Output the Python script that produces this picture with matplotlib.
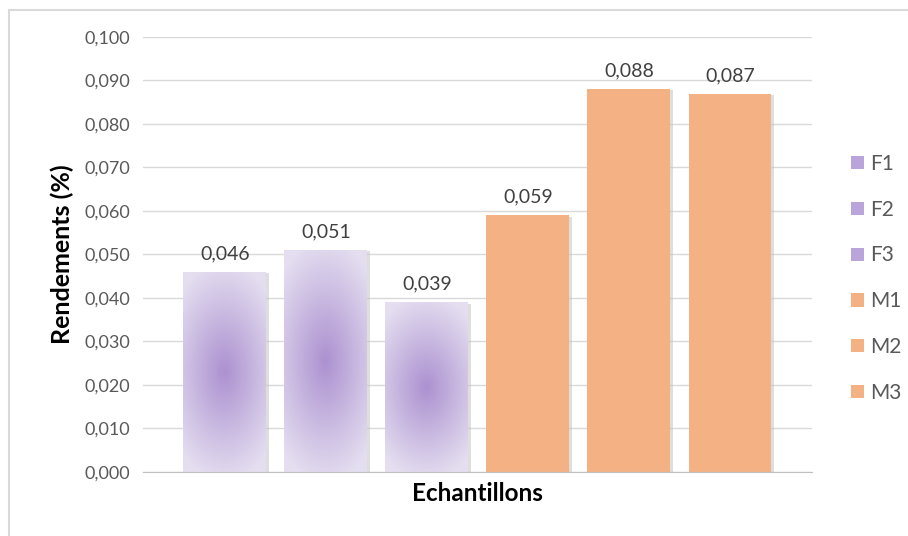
import numpy as np
import matplotlib
matplotlib.use("Agg")
import matplotlib.pyplot as plt
from matplotlib.patches import Rectangle
from matplotlib.ticker import FuncFormatter

# Rendements par echantillon
echantillons = ["F1", "F2", "F3", "M1", "M2", "M3"]
rendements = [0.046, 0.051, 0.039, 0.059, 0.088, 0.087]
groupe = ["F", "F", "F", "M", "M", "M"]

plt.rcParams['font.family'] = ['Lato', 'DejaVu Sans']

orange = "#f4b183"
violet_centre = np.array([172, 145, 208]) / 255.0
violet_bord = np.array([228, 222, 240]) / 255.0
largeur = 0.82

fig = plt.figure(figsize=(9.08, 5.36), dpi=100)
ax = fig.add_axes([0.1575, 0.1194, 0.7365, 0.8116])

# cadre du graphique (bords gauche et haut)
fig.patches.append(Rectangle((9 / 908, -0.1), 1.2, (536 - 10) / 536 + 0.1,
                             transform=fig.transFigure, fill=False,
                             edgecolor="#d9d9d9", linewidth=1.5, zorder=0))

ax.set_xlim(-0.81, 5.81)
ax.set_ylim(0, 0.100)
ax.set_yticks(np.arange(0, 0.1001, 0.010))
ax.yaxis.set_major_formatter(FuncFormatter(lambda v, p: f"{v:.3f}".replace(".", ",")))
ax.grid(axis="y", color="#d9d9d9", linewidth=1)
ax.set_axisbelow(True)
ax.set_xticks([])
for s in ["top", "right", "left"]:
    ax.spines[s].set_visible(False)
ax.spines["bottom"].set_color("#bfbfbf")
ax.spines["bottom"].set_zorder(5)
ax.tick_params(axis="y", length=0, pad=9, labelsize=13, labelcolor="#595959")

# degrade radial pour les barres violettes
ny, nx = 200, 100
yy, xx = np.mgrid[0:1:ny * 1j, 0:1:nx * 1j]

for i, (nom, val, g) in enumerate(zip(echantillons, rendements, groupe)):
    x0 = i - largeur / 2
    # ombre legere
    ax.add_patch(Rectangle((x0 + 0.025, 0), largeur, val - 0.0003,
                           facecolor="#c8c8c8", edgecolor="none", alpha=0.6, zorder=2))
    if g == "M":
        ax.bar(i, val, width=largeur, color=orange, zorder=3)
    else:
        barre = ax.bar(i, val, width=largeur, color="none", zorder=3)[0]
        d = np.sqrt(((xx - 0.5) / 0.75) ** 2 + ((yy - 0.5) / 0.55) ** 2)
        t = np.clip(d, 0, 1)[..., None]
        img = violet_centre * (1 - t) + violet_bord * t
        im = ax.imshow(img, extent=(x0, x0 + largeur, 0, val), origin="lower",
                       aspect="auto", zorder=3, interpolation="bilinear")
        im.set_clip_path(barre)
    ax.text(i, val + 0.0022, f"{val:.3f}".replace(".", ","), ha="center", va="bottom",
            fontsize=14, color="#404040", zorder=6)

ax.set_ylabel("Rendements (%)", fontsize=18, fontweight="bold", color="black", labelpad=8)
ax.set_xlabel("Echantillons", fontsize=17.5, fontweight="bold", color="black", labelpad=7)

# legende
poignees = [Rectangle((0, 0), 1, 1, facecolor=("#b9a5d9" if g == "F" else orange),
                      edgecolor="none") for g in groupe]
fig.legend(poignees, echantillons, loc="upper left", bbox_to_anchor=(0.917, 0.748),
           frameon=False, fontsize=15, labelspacing=1.24, handlelength=0.6,
           handleheight=0.6, handletextpad=0.3, labelcolor="#595959")

fig.savefig("out.png", dpi=100)
